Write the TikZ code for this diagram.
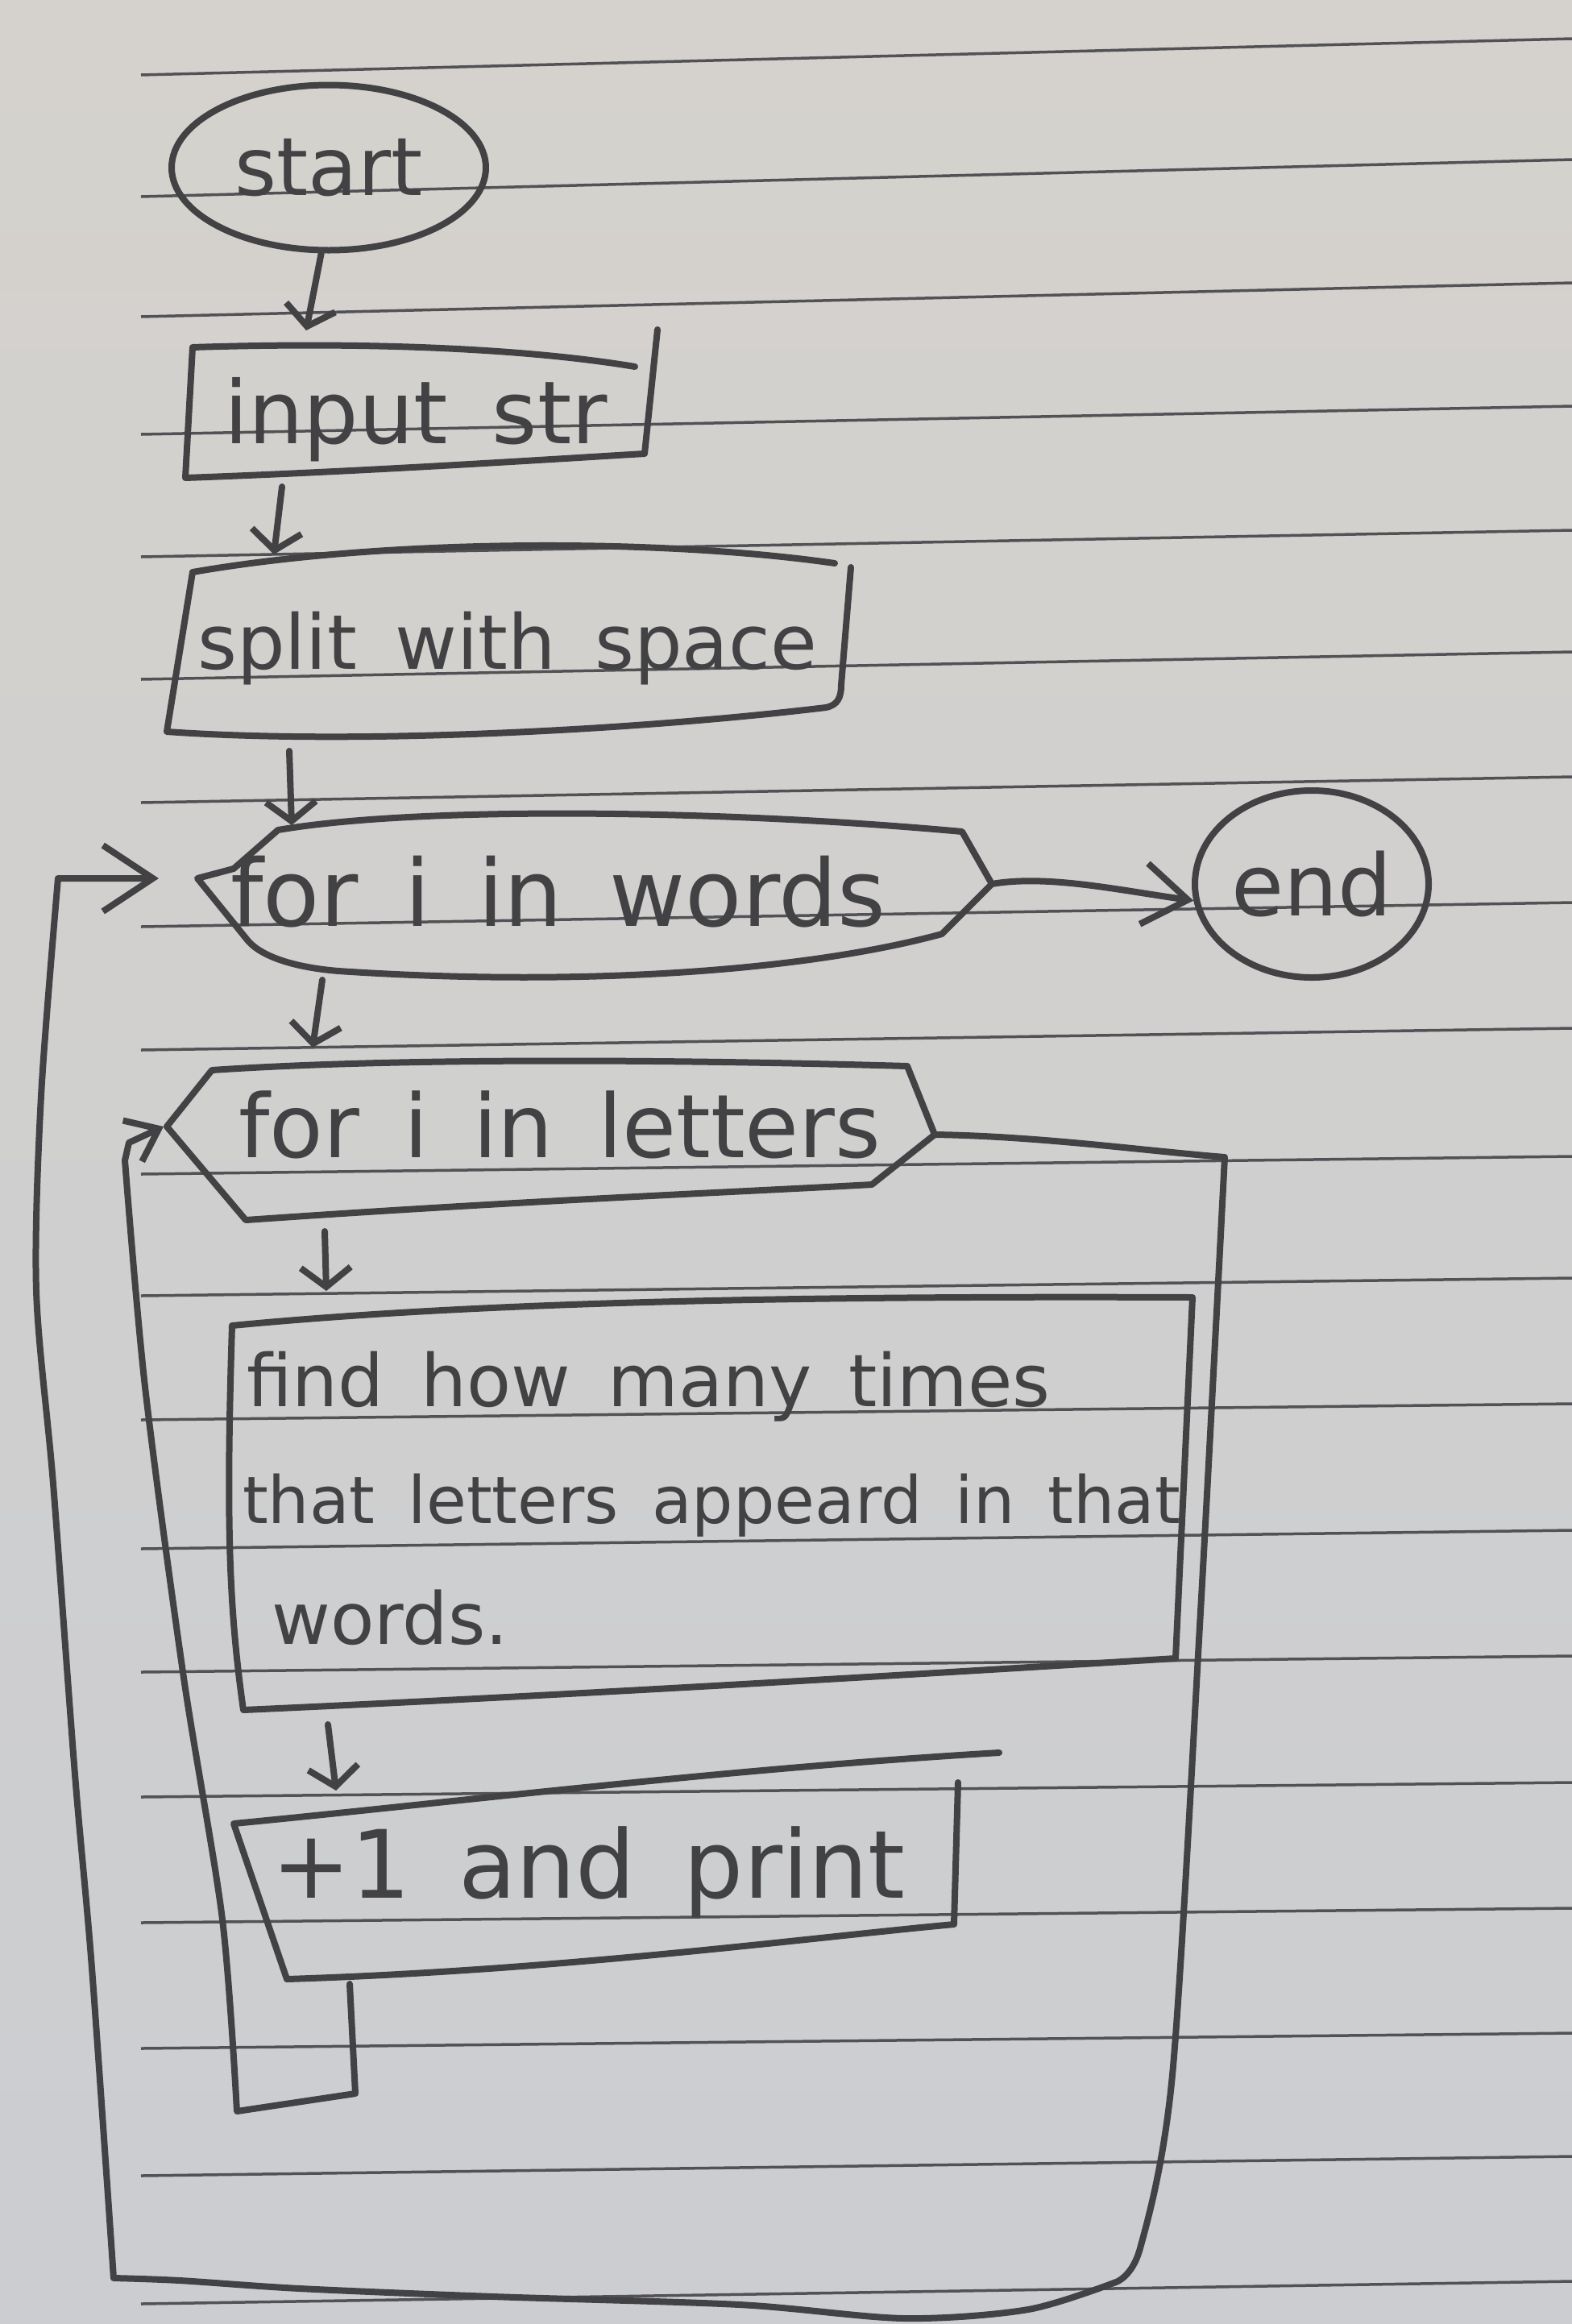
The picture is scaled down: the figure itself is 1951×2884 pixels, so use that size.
\documentclass[tikz,border=0pt]{standalone}
\usepackage{fontspec}
\usetikzlibrary{arrows.meta,shapes.geometric}
\newfontfamily\hand{DejaVu Sans}[WordSpace=1.6]
\newcommand\penfont[1]{\hand\fontsize{#1}{#1}\selectfont}
\definecolor{papertop}{RGB}{213,210,205}
\definecolor{paperbot}{RGB}{203,205,209}
\definecolor{ruling}{RGB}{82,82,86}
\definecolor{pencil}{RGB}{66,66,68}
\tikzset{
  pen/.style={draw=pencil,line width=8pt,line cap=round,line join=round},
  ruled/.style={draw=ruling,line width=3.5pt},
  hw/.style={text=pencil,inner sep=0pt,anchor=base west},
  oval/.style={pen,ellipse,inner sep=0pt,text=pencil},
  flow/.style={-{Straight Barb[length=24pt,width=62pt]}},
  loopflow/.style={-{Straight Barb[length=62pt,width=82pt]}},
  innerflow/.style={-{Straight Barb[length=36pt,width=56pt]}},
  endflow/.style={-{Straight Barb[length=55pt,width=76pt]}},
}
\begin{document}
\begin{tikzpicture}[x=1pt,y=-1pt]
\useasboundingbox (0,0) rectangle (1951,2884);
\shade[top color=papertop,bottom color=paperbot] (0,0) rectangle (1951,2884);

% ruled lines of the notebook page
\foreach \yl/\yr in {93/48,244/198,393/351,539/504,691/658,843/809,996/964,
  1150/1120,1303/1276,1457/1435,1608/1586,1762/1742,1922/1899,2075/2055,
  2230/2212,2386/2368,2542/2523,2700/2676,2859/2831}
  \draw[ruled] (175,\yl) -- (1951,\yr);

% terminals
\node[oval,minimum width=390pt,minimum height=205pt,font=\penfont{100}] (start) at (408,208) {start};
\node[oval,minimum width=290pt,minimum height=232pt,font=\penfont{106}] (stop) at (1628,1097) {end};

% input box
\draw[pen] (788,455) .. controls (650,432) and (450,424) .. (239,431) -- (230,593)
  .. controls (450,585) and (650,572) .. (800,563) -- (816,409);
\node[hw,font=\penfont{108}] (input) at (278,550) {input str};
\coordinate (input-n) at (380,410);
\coordinate (input-s) at (350,604);

% split box
\draw[pen] (1036,699) .. controls (820,668) and (480,668) .. (239,710) -- (207,908)
  .. controls (450,925) and (800,905) .. (1025,878)
  .. controls (1040,875) and (1044,865) .. (1044,850) -- (1056,704);
\node[hw,font=\penfont{94}] (split) at (245,830) {split with space};
\coordinate (split-n) at (340,688);
\coordinate (split-s) at (359,932);

% outer loop head
\draw[pen] (245,1090) -- (290,1078) -- (345,1030)
  .. controls (520,1000) and (900,1005) .. (1194,1032) -- (1231,1097) -- (1169,1159)
  .. controls (1000,1205) and (720,1225) .. (420,1205)
  .. controls (360,1200) and (320,1185) .. (305,1164) -- cycle;
\node[hw,font=\penfont{115}] (words) at (286,1149) {for i in words};
\coordinate (words-n) at (362,1024);
\coordinate (words-s) at (400,1216);
\coordinate (words-e) at (1231,1097);
\coordinate (words-w) at (197,1090);

% inner loop head
\draw[pen] (207,1398) -- (263,1328) .. controls (500,1312) and (850,1315) .. (1126,1323)
  -- (1160,1408) -- (1082,1470) .. controls (900,1480) and (650,1490) .. (305,1514) -- cycle;
\node[hw,font=\penfont{109}] (letters) at (296,1436) {for i in letters};
\coordinate (letters-n) at (388,1300);
\coordinate (letters-s) at (403,1528);
\coordinate (letters-e) at (1160,1408);
\coordinate (letters-w) at (203,1398);

% counting box
\draw[pen] (288,1645) .. controls (600,1615) and (1000,1608) .. (1480,1610) -- (1459,2058)
  .. controls (1100,2080) and (700,2104) .. (302,2122) .. controls (285,2000) and (280,1900) .. cycle;
\node[hw,font=\penfont{90}] (find) at (306,1745) {find how many times};
\node[hw,font=\penfont{81}] (find-2) at (301,1890) {that letters appeard in that};
\node[hw,font=\penfont{89}] (find-3) at (337,2040) {words.};
\coordinate (find-n) at (405,1602);
\coordinate (find-s) at (407,2140);

% output box
\draw[pen] (1240,2175) .. controls (900,2195) and (550,2238) .. (290,2263) -- (356,2456)
  .. controls (700,2445) and (1000,2405) .. (1184,2388) -- (1189,2212);
\node[hw,font=\penfont{117}] (print) at (337,2355) {+1 and print};
\coordinate (print-n) at (417,2222);
\coordinate (print-s) at (434,2462);

% main flow
\draw[pen,flow] (start.265) -- (input-n);
\draw[pen,flow] (input-s) -- (split-n);
\draw[pen,flow] (split-s) -- (words-n);
\draw[pen,flow] (words-s) -- (letters-n);
\draw[pen,flow] (letters-s) -- (find-n);
\draw[pen,flow] (find-s) -- (print-n);
\draw[pen,endflow] (words-e) .. controls (1300,1085) and (1390,1105) .. (stop.188);

% inner loop back to the letters loop
\draw[pen,innerflow] (print-s) -- (441,2598) -- (294,2620)
  -- plot[smooth,tension=0.5] coordinates {(294,2620) (276,2382) (228,2082) (180,1721) (155,1440)}
  -- (160,1418) -- (letters-w);

% outer loop back to the words loop
\draw[pen,loopflow] (letters-e) .. controls (1290,1410) and (1420,1428) .. (1520,1436)
  -- plot[smooth,tension=0.5] coordinates {(1520,1436) (1490,2000) (1455,2575) (1415,2790) (1385,2832)}
  -- plot[smooth,tension=0.5] coordinates {(1385,2832) (1276,2866) (1122,2877) (918,2860) (612,2850) (372,2840) (223,2830) (141,2827)}
  -- plot[smooth,tension=0.5] coordinates {(141,2827) (114,2442) (93,2202) (66,1841) (45,1601) (51,1360) (72,1090)}
  -- (words-w);
\end{tikzpicture}
\end{document}
